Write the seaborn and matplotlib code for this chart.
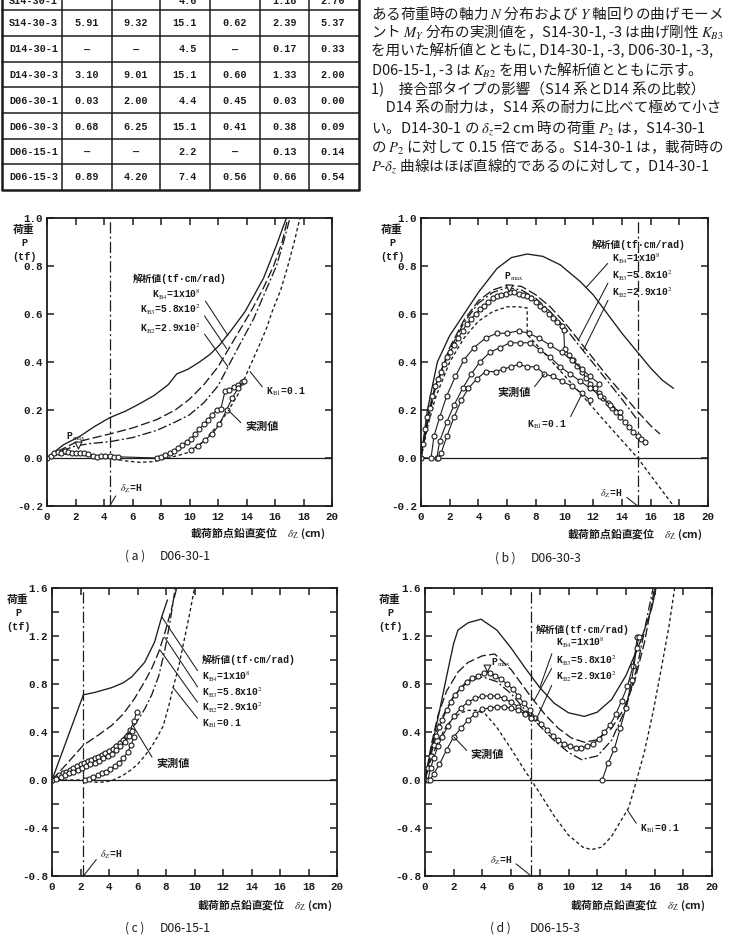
import matplotlib
matplotlib.use("Agg")
import matplotlib.pyplot as plt
import seaborn as sns

# ---------------- data ----------------
XTICKS = [0, 2, 4, 6, 8, 10, 12, 14, 16, 18, 20]
AB_YTICKS = [-0.2, 0.0, 0.2, 0.4, 0.6, 0.8, 1.0]
CD_YTICKS = [-0.8, -0.4, 0.0, 0.4, 0.8, 1.2, 1.6]
CD_YMINOR = [-0.6, -0.2, 0.2, 0.6, 1.0, 1.4]

# table
table_names = ["S14-30-3", "D14-30-1", "D14-30-3", "D06-30-1", "D06-30-3", "D06-15-1", "D06-15-3"]
table_c1 = ["5.91", "—", "3.10", "0.03", "0.68", "—", "0.89"]
table_c2 = ["9.32", "—", "9.01", "2.00", "6.25", "—", "4.20"]
table_H = ["15.1", "4.5", "15.1", "4.4", "15.1", "2.2", "7.4"]
table_c4 = ["0.62", "—", "0.60", "0.45", "0.41", "—", "0.56"]
table_c5 = ["2.39", "0.17", "1.33", "0.03", "0.38", "0.13", "0.66"]
table_c6 = ["5.37", "0.33", "2.00", "0.00", "0.09", "0.14", "0.54"]
table_partial = ["S14-30-1", "", "", "4.6", "", "1.18", "2.70"]

# paragraph
para_lines = [
    "ある荷重時の軸力 $N$ 分布および $Y$ 軸回りの曲げモーメ",
    "ント $M_Y$ 分布の実測値を，S14-30-1, -3 は曲げ剛性 $K_{B3}$",
    "を用いた解析値とともに, D14-30-1, -3, D06-30-1, -3,",
    "D06-15-1, -3 は $K_{B2}$ を用いた解析値とともに示す。",
    "1)　接合部タイプの影響（S14 系とD14 系の比較）",
    "　D14 系の耐力は，S14 系の耐力に比べて極めて小さ",
    "い。D14-30-1 の $\\delta_z$=2 cm 時の荷重 $P_2$ は，S14-30-1",
    "の $P_2$ に対して 0.15 倍である。S14-30-1 は，載荷時の",
    "$P$-$\\delta_z$ 曲線はほぼ直線的であるのに対して，D14-30-1",
]

# ---- panel (a) D06-30-1
a_H = 4.4
a_kb4_x = [0, 1.15, 2.3, 3.3, 4.4, 5.5, 6.5, 7.5, 8.5, 9.1, 9.9, 10.7, 11.4, 12.1, 12.9, 13.9, 15.2, 16.1, 16.8]
a_kb4_y = [0, 0.055, 0.09, 0.13, 0.168, 0.195, 0.226, 0.26, 0.305, 0.35, 0.37, 0.40, 0.43, 0.47, 0.53, 0.61, 0.75, 0.886, 1.0]
a_kb3_x = [0, 1.0, 2.0, 3.0, 4.4, 6.0, 7.7, 9.0, 10.0, 11.0, 12.0, 12.6, 13.4, 14.4, 15.2, 15.9, 16.5, 16.9]
a_kb3_y = [0, 0.035, 0.065, 0.08, 0.10, 0.125, 0.16, 0.20, 0.245, 0.305, 0.38, 0.44, 0.52, 0.62, 0.71, 0.80, 0.90, 1.0]
a_kb2_x = [0, 1.0, 2.0, 3.0, 4.4, 6.0, 7.7, 9.0, 10.0, 11.0, 12.0, 12.7, 13.5, 14.5, 15.3, 16.1, 16.6, 17.05]
a_kb2_y = [0, 0.03, 0.05, 0.06, 0.068, 0.085, 0.115, 0.15, 0.18, 0.23, 0.30, 0.38, 0.47, 0.58, 0.69, 0.80, 0.90, 1.0]
a_kb1_x = [0, 0.5, 1.0, 2.0, 3.0, 4.4, 5.5, 6.5, 7.5, 8.5, 9.3, 10.0, 11.0, 12.0, 12.7, 13.4, 14.0, 14.9, 15.4, 15.8, 16.4, 16.9, 17.35, 17.75]
a_kb1_y = [0, 0.01, 0.015, 0.015, 0.01, 0.0, -0.012, -0.018, -0.015, 0.0, 0.012, 0.025, 0.07, 0.137, 0.195, 0.265, 0.35, 0.47, 0.54, 0.61, 0.70, 0.80, 0.90, 1.0]
a_m1_x = [0, 0.25, 0.5, 0.75, 1.0, 1.25, 1.5, 1.75, 2.0, 2.3, 2.6, 2.9, 3.2, 3.5, 3.8, 4.1, 4.4, 4.7, 5.0,
          7.7, 8.0, 8.3, 8.6, 8.9, 9.2, 9.5, 9.8, 10.1, 10.4, 10.7, 11.0, 11.3, 11.6, 11.9, 12.2, 12.5, 12.8, 13.1, 13.4, 13.7]
a_m1_y = [0, 0.01, 0.02, 0.025, 0.02, 0.03, 0.025, 0.02, 0.02, 0.02, 0.02, 0.015, 0.01, 0.005, 0.01, 0.01, 0.008, 0.005, 0.005,
          0.0, 0.005, 0.012, 0.02, 0.03, 0.04, 0.055, 0.065, 0.08, 0.10, 0.12, 0.14, 0.16, 0.18, 0.20, 0.205, 0.28, 0.285, 0.295, 0.305, 0.315]
a_m2_x = [10.1, 10.6, 11.1, 11.6, 12.1, 12.6, 13.0, 13.4, 13.8]
a_m2_y = [0.035, 0.05, 0.075, 0.10, 0.14, 0.20, 0.25, 0.29, 0.32]
a_pmax = (2.2, 0.055)

# ---- panel (b) D06-30-3
b_H = 15.1
b_kb4_x = [0, 0.45, 1.14, 2.0, 3.0, 4.0, 5.3, 6.3, 7.4, 8.5, 9.7, 11.1, 12.0, 13.0, 14.0, 15.1, 16.0, 16.8, 17.6]
b_kb4_y = [0, 0.2, 0.4, 0.51, 0.6, 0.69, 0.79, 0.835, 0.85, 0.84, 0.805, 0.735, 0.68, 0.60, 0.52, 0.44, 0.375, 0.325, 0.29]
b_kb3_x = [0, 0.5, 1, 2, 3, 4, 5, 6, 7, 8, 9, 10, 11, 12, 13, 14, 15, 16, 16.65]
b_kb3_y = [0, 0.17, 0.30, 0.46, 0.575, 0.655, 0.70, 0.72, 0.715, 0.68, 0.63, 0.565, 0.49, 0.415, 0.34, 0.27, 0.20, 0.135, 0.10]
b_kb2_x = [0, 0.5, 1, 2, 3, 4, 5, 6, 7, 8, 9, 10, 11, 12, 13, 14, 15.0]
b_kb2_y = [0, 0.16, 0.29, 0.45, 0.565, 0.645, 0.69, 0.71, 0.70, 0.665, 0.61, 0.545, 0.47, 0.395, 0.32, 0.245, 0.165]
b_kb1_x = [0, 0.5, 1, 2, 3, 4, 5, 6, 6.8, 7.4, 7.4, 9.0, 11.1, 13.0, 15.1, 17.6]
b_kb1_y = [0, 0.14, 0.25, 0.40, 0.50, 0.57, 0.61, 0.63, 0.63, 0.625, 0.515, 0.41, 0.27, 0.14, 0.0, -0.2]
b_m1_x = [0, 0.15, 0.3, 0.45, 0.6, 0.8, 1.0, 1.2, 1.4, 1.6, 1.8, 2.0, 2.3, 2.6, 2.9, 3.2, 3.5, 3.8, 4.1, 4.4, 4.7,
          5.0, 5.3, 5.6, 5.9, 6.2, 6.5, 6.8, 7.1, 7.4, 7.7, 8.0, 8.3, 8.6, 8.9, 9.2, 9.5, 9.8, 9.95, 10.0, 10.3,
          10.6, 10.9, 11.2, 11.5, 11.8, 12.1, 12.4, 12.7, 13.0, 13.3, 13.6, 13.9, 14.2, 14.5, 14.8, 15.1, 15.35, 15.6]
b_m1_y = [0, 0.06, 0.12, 0.17, 0.21, 0.26, 0.30, 0.33, 0.36, 0.39, 0.42, 0.44, 0.47, 0.50, 0.53, 0.56, 0.58, 0.60, 0.62, 0.635, 0.65,
          0.665, 0.675, 0.68, 0.685, 0.69, 0.69, 0.685, 0.68, 0.675, 0.665, 0.65, 0.635, 0.62, 0.60, 0.585, 0.565, 0.55, 0.535, 0.455, 0.43,
          0.41, 0.385, 0.36, 0.335, 0.31, 0.29, 0.27, 0.25, 0.23, 0.21, 0.19, 0.17, 0.15, 0.13, 0.11, 0.09, 0.08, 0.068]
b_m2_x = [0.7, 0.9, 1.3, 1.8, 2.4, 3.0, 3.7, 4.5, 5.3, 6.0, 6.8, 7.5, 8.2, 9.0, 9.8, 10.5, 11.2, 11.8, 12.4]
b_m2_y = [0, 0.09, 0.17, 0.26, 0.34, 0.41, 0.46, 0.50, 0.52, 0.52, 0.53, 0.52, 0.50, 0.47, 0.44, 0.41, 0.37, 0.34, 0.31]
b_m3_x = [1.1, 1.3, 1.8, 2.3, 2.9, 3.5, 4.1, 4.8, 5.5, 6.2, 6.9, 7.6, 8.3, 9.0, 9.7, 10.4, 11.1, 11.8, 12.5, 13.2, 13.9]
b_m3_y = [0, 0.07, 0.15, 0.22, 0.29, 0.35, 0.40, 0.44, 0.46, 0.48, 0.48, 0.48, 0.45, 0.42, 0.38, 0.35, 0.32, 0.29, 0.26, 0.22, 0.19]
b_m4_x = [1.2, 1.4, 1.8, 2.3, 2.8, 3.3, 3.9, 4.5, 5.2, 5.7, 6.3, 6.8, 7.4, 8.0, 8.6, 9.2, 9.8, 10.5, 11.2, 11.8]
b_m4_y = [0, 0.02, 0.09, 0.17, 0.24, 0.29, 0.33, 0.36, 0.36, 0.37, 0.38, 0.39, 0.38, 0.38, 0.35, 0.34, 0.32, 0.30, 0.27, 0.24]
b_pmax = (6.13, 0.71)

# ---- panel (c) D06-15-1
c_H = 2.2
c_kb4_x = [0, 2.2, 3.0, 4.2, 5.0, 5.6, 6.5, 7.2, 7.7, 8.1]
c_kb4_y = [0, 0.71, 0.73, 0.77, 0.81, 0.86, 0.98, 1.15, 1.36, 1.5]
c_kb3_x = [0, 1.0, 2.2, 3.2, 4.2, 5.0, 5.8, 6.5, 7.0, 7.5, 7.93, 8.35, 8.75]
c_kb3_y = [0, 0.13, 0.29, 0.37, 0.456, 0.55, 0.68, 0.82, 0.93, 1.07, 1.23, 1.41, 1.6]
c_kb2_x = [0, 1.0, 2.2, 3.2, 4.2, 5.0, 5.8, 6.5, 7.0, 7.5, 7.93, 8.3, 8.65]
c_kb2_y = [0, 0.07, 0.15, 0.20, 0.26, 0.35, 0.46, 0.59, 0.71, 0.87, 1.09, 1.33, 1.6]
c_kb1_x = [0, 1.0, 2.2, 2.8, 3.3, 3.8, 4.3, 5.0, 5.5, 6.0, 6.5, 7.0, 7.4, 7.8, 8.2, 8.5, 8.9, 9.3, 9.65, 10.0]
c_kb1_y = [0, 0.0, 0.0, -0.015, -0.02, -0.015, 0.0, 0.04, 0.08, 0.13, 0.20, 0.28, 0.36, 0.45, 0.62, 0.77, 0.95, 1.18, 1.38, 1.6]
c_m1_x = [0, 0.25, 0.5, 0.75, 1.0, 1.25, 1.5, 1.75, 2.0, 2.25, 2.5, 2.75, 3.0, 3.25, 3.5, 3.75, 4.0, 4.25, 4.5, 4.75, 5.0, 5.25, 5.5, 5.75, 5.95]
c_m1_y = [0, 0.02, 0.04, 0.055, 0.07, 0.085, 0.10, 0.115, 0.13, 0.14, 0.155, 0.165, 0.18, 0.195, 0.21, 0.225, 0.24, 0.26, 0.28, 0.305, 0.33, 0.37, 0.42, 0.49, 0.57]
c_m2_x = [0, 0.3, 0.6, 0.9, 1.2, 1.5, 1.8, 2.1, 2.4, 2.7, 3.0, 3.3, 3.6, 3.9, 4.2, 4.5, 4.8, 5.1, 5.4, 5.6]
c_m2_y = [0, 0.01, 0.025, 0.04, 0.055, 0.07, 0.085, 0.10, 0.115, 0.13, 0.145, 0.16, 0.18, 0.20, 0.22, 0.25, 0.28, 0.32, 0.37, 0.41]
c_m3_x = [2.3, 2.6, 2.9, 3.2, 3.5, 3.8, 4.1, 4.4, 4.7, 5.0, 5.3, 5.55, 5.75]
c_m3_y = [0, 0.012, 0.025, 0.04, 0.055, 0.07, 0.09, 0.115, 0.145, 0.18, 0.23, 0.29, 0.36]

# ---- panel (d) D06-15-3
d_H = 7.4
d_kb4_x = [0, 0.5, 1.0, 1.5, 2.0, 2.3, 3.0, 3.9, 5.0, 6.0, 7.0, 8.0, 9.0, 10.0, 11.1, 12.0, 13.0, 14.0, 15.0, 15.8, 16.1]
d_kb4_y = [0, 0.29, 0.57, 0.86, 1.14, 1.25, 1.31, 1.34, 1.25, 1.10, 0.93, 0.77, 0.64, 0.56, 0.53, 0.565, 0.67, 0.87, 1.15, 1.43, 1.6]
d_kb3_x = [0, 0.45, 0.91, 1.5, 2.3, 3.0, 4.0, 4.86, 6.0, 7.4, 8.4, 9.3, 10.2, 11.1, 12.0, 13.0, 13.8, 14.6, 15.3, 16.0]
d_kb3_y = [0, 0.30, 0.54, 0.74, 0.90, 0.98, 1.035, 1.05, 0.92, 0.69, 0.54, 0.43, 0.35, 0.315, 0.335, 0.43, 0.58, 0.82, 1.15, 1.6]
d_kb2_x = [0, 0.5, 1.0, 2.0, 3.0, 4.0, 5.0, 6.0, 7.0, 8.0, 9.0, 10.0, 10.9, 12.0, 13.0, 14.0, 14.8, 15.5, 15.9]
d_kb2_y = [0, 0.28, 0.48, 0.70, 0.82, 0.86, 0.82, 0.72, 0.58, 0.45, 0.33, 0.23, 0.17, 0.20, 0.33, 0.60, 0.95, 1.37, 1.6]
d_kb1_x = [0, 0.5, 1.0, 1.5, 2.0, 2.5, 3.0, 3.6, 4.2, 5.0, 6.0, 7.0, 7.4, 8.0, 9.0, 10.0, 11.0, 11.6, 12.3, 13.0, 13.6,
           14.2, 14.75, 15.3, 15.9, 16.5, 17.0, 17.4]
d_kb1_y = [0, 0.20, 0.34, 0.45, 0.52, 0.56, 0.58, 0.58, 0.55, 0.44, 0.26, 0.07, 0.0, -0.11, -0.30, -0.46, -0.56, -0.58, -0.56, -0.47, -0.35,
           -0.23, 0.0, 0.24, 0.57, 0.95, 1.28, 1.6]
d_m1_x = [0, 0.2, 0.4, 0.6, 0.8, 1.0, 1.2, 1.5, 1.8, 2.1, 2.5, 2.9, 3.3, 3.7, 4.1, 4.5, 4.9, 5.3, 5.7, 6.1, 6.5, 6.9, 7.3,
          7.7, 8.1, 8.5, 8.9, 9.3, 9.7, 10.1, 10.5, 10.9, 11.3, 11.7, 12.1, 12.5, 12.9, 13.3, 13.7, 14.1, 14.5, 14.8]
d_m1_y = [0, 0.10, 0.20, 0.29, 0.37, 0.44, 0.50, 0.58, 0.65, 0.71, 0.77, 0.82, 0.85, 0.87, 0.89, 0.89, 0.87, 0.84, 0.80, 0.76, 0.70, 0.64, 0.58,
          0.52, 0.47, 0.42, 0.37, 0.33, 0.30, 0.28, 0.27, 0.27, 0.28, 0.30, 0.34, 0.40, 0.46, 0.55, 0.66, 0.78, 0.95, 1.19]
d_m2_x = [0.2, 0.4, 0.6, 0.9, 1.2, 1.6, 2.0, 2.5, 3.0, 3.5, 4.0, 4.5, 5.0, 5.5, 6.0, 6.5, 7.0, 7.4]
d_m2_y = [0, 0.10, 0.18, 0.28, 0.36, 0.45, 0.53, 0.60, 0.65, 0.68, 0.70, 0.70, 0.70, 0.68, 0.65, 0.61, 0.56, 0.52]
d_m3_x = [0.35, 0.6, 1.0, 1.5, 2.0, 2.5, 3.0, 3.5, 4.0, 4.5, 5.0, 5.5, 6.0, 6.5, 7.0, 7.4]
d_m3_y = [0, 0.05, 0.13, 0.25, 0.36, 0.43, 0.50, 0.55, 0.59, 0.60, 0.61, 0.61, 0.60, 0.58, 0.55, 0.52]
d_m4_x = [12.35, 12.75, 13.2, 13.6, 14.0, 14.4, 14.75, 14.9]
d_m4_y = [0, 0.14, 0.26, 0.43, 0.60, 0.83, 1.10, 1.19]
d_pmax = (4.3, 0.93)

KB4_TXT = "K$_{\\rm B4}$=1x10$^{\\rm 8}$"
KB3_TXT = "K$_{\\rm B3}$=5.8x10$^{\\rm 2}$"
KB2_TXT = "K$_{\\rm B2}$=2.9x10$^{\\rm 2}$"
KB1_TXT = "K$_{\\rm B1}$=0.1"
ANA_TXT = "解析値(tf·cm/rad)"
MEAS_TXT = "実測値"
PMAX_TXT = "P$_{\\rm max}$"
DH_TXT = "$\\delta_{\\rm Z}$=H"

# ---------------- style ----------------
sns.set_theme(style="ticks")
MONO = ["Liberation Mono", "Noto Sans CJK JP", "DejaVu Sans"]
CJK = ["Noto Sans CJK JP", "DejaVu Sans"]
plt.rcParams["font.family"] = MONO
plt.rcParams["mathtext.fontset"] = "stix"
plt.rcParams["axes.unicode_minus"] = False
INK = "#1c1c1c"

LS_KB4 = "-"
LS_KB3 = (0, (7, 2.5))
LS_KB2 = (0, (7, 2, 1.5, 2))
LS_KB1 = (0, (2.6, 2))
LS_H = (0, (9, 2.5, 1.6, 2.5))

fig = plt.figure(figsize=(7.31, 9.40), dpi=100)
fig.patch.set_facecolor("white")

ov = fig.add_axes([0, 0, 1, 1])
ov.set_xlim(0, 731)
ov.set_ylim(940, 0)
ov.axis("off")
ov.set_zorder(-5)

# ---- table
T_X = [2, 62, 112, 160, 210, 260, 309, 359]
T_Y = [10, 36, 62, 87, 113, 139, 164, 190]
for xv in T_X:
    lw = 1.8 if xv in (2, 359) else 1.1
    ov.plot([xv, xv], [-2, 190], color=INK, lw=lw, solid_capstyle="butt")
for yv in T_Y:
    lw = 1.8 if yv == 190 else 1.1
    ov.plot([2, 359], [yv, yv], color=INK, lw=lw)
col_pos = [(9, "left"), (87, "center"), (136, "center"), (197, "right"), (235, "center"), (284.5, "center"), (333, "center")]
rows = list(zip(table_names, table_c1, table_c2, table_H, table_c4, table_c5, table_c6))
for i, row in enumerate(rows):
    yc = (T_Y[i] + T_Y[i + 1]) / 2 + 0.5
    for (xp, ha), val in zip(col_pos, row):
        ov.text(xp, yc, val, ha=ha, va="center", fontsize=7.3, fontweight="bold", color=INK, family=MONO)
# top row of the table is cut by the page edge in the reference
for (xp, ha), val in zip(col_pos, table_partial):
    if val:
        ov.text(xp, 1.5, val, ha=ha, va="center", fontsize=7.3, fontweight="bold", color=INK, family=MONO)

# ---- paragraph
para_y = [13, 32, 51, 70, 89, 108, 128, 147, 166]
for yv, line in zip(para_y, para_lines):
    ov.text(371, yv, line, ha="left", va="center", fontsize=10.5, color=INK, family=CJK)


def style_axes(ax, ylim, ymajor, yminor):
    ax.set_xlim(0, 20)
    ax.set_ylim(*ylim)
    ax.set_xticks(XTICKS)
    ax.set_yticks(ymajor)
    if yminor:
        ax.set_yticks(yminor, minor=True)
    ax.set_xticklabels([str(v) for v in XTICKS])
    ax.set_yticklabels([f"{v:.1f}" for v in ymajor])
    ax.tick_params(which="both", direction="in", top=True, right=True, length=5, width=1.1,
                   color=INK, labelcolor=INK)
    ax.tick_params(axis="y", pad=3)
    ax.tick_params(axis="x", pad=4)
    for t in ax.get_xticklabels() + ax.get_yticklabels():
        t.set_fontfamily(MONO)
        t.set_fontweight("bold")
        t.set_fontsize(7.8)
    for s in ax.spines.values():
        s.set_linewidth(1.3)
        s.set_color(INK)
    ax.set_xlabel("")
    ax.set_ylabel("")


def draw_panel(rect, ylim, ymajor, yminor, H, curves, measured, pmax):
    ax = fig.add_axes(rect)
    ax.set_facecolor("white")
    ax.axhline(0, color=INK, lw=0.9, zorder=1)
    ax.axvline(H, color=INK, lw=0.9, linestyle=LS_H, zorder=1)
    for (xs, ys), ls in zip(curves, [LS_KB4, LS_KB3, LS_KB2, LS_KB1]):
        sns.lineplot(x=xs, y=ys, ax=ax, sort=False, estimator=None, color=INK, lw=0.95, legend=False)
        ax.lines[-1].set_linestyle(ls)
    for xs, ys in measured:
        sns.lineplot(x=xs, y=ys, ax=ax, sort=False, estimator=None, color=INK, lw=0.8, legend=False,
                     marker="o", markersize=3.6, markerfacecolor="white", markeredgecolor=INK,
                     markeredgewidth=0.8)
    if pmax is not None:
        sns.scatterplot(x=[pmax[0]], y=[pmax[1]], ax=ax, marker="v", s=24, color="white",
                        edgecolor=INK, linewidth=0.8, zorder=6, legend=False)
    style_axes(ax, ylim, ymajor, yminor)
    return ax


def note(ax, text, xytext, xy=None, side="r", fs=7.0, family=MONO, weight="bold"):
    if xy is None:
        ax.text(xytext[0], xytext[1], text, ha="left", va="center", fontsize=fs, family=family,
                fontweight=weight, color=INK, zorder=7)
        return
    relpos = (1, 0.5) if side == "r" else (0, 0.5)
    ax.annotate(text, xy=xy, xytext=xytext, textcoords="data", ha="left", va="center", fontsize=fs,
                family=family, fontweight=weight, color=INK, annotation_clip=False, zorder=7,
                arrowprops=dict(arrowstyle="-", color=INK, lw=0.75, shrinkA=1, shrinkB=0, relpos=relpos))


RECT_A = [47 / 731, 1 - 506 / 940, 285 / 731, 288 / 940]
RECT_B = [421 / 731, 1 - 506 / 940, 287 / 731, 288 / 940]
RECT_C = [52 / 731, 1 - 876 / 940, 285 / 731, 288 / 940]
RECT_D = [425 / 731, 1 - 876 / 940, 287 / 731, 288 / 940]

# (a)
axa = draw_panel(RECT_A, (-0.2, 1.0), AB_YTICKS, None, a_H,
                 [(a_kb4_x, a_kb4_y), (a_kb3_x, a_kb3_y), (a_kb2_x, a_kb2_y), (a_kb1_x, a_kb1_y)],
                 [(a_m1_x, a_m1_y), (a_m2_x, a_m2_y)], a_pmax)
note(axa, ANA_TXT, (6.0, 0.745))
note(axa, KB4_TXT, (7.4, 0.68), (12.7, 0.51), "r")
note(axa, KB3_TXT, (6.5, 0.617), (12.6, 0.456), "r")
note(axa, KB2_TXT, (6.5, 0.54), (12.7, 0.38), "r")
note(axa, KB1_TXT, (15.4, 0.275), (14.25, 0.36), "l")
note(axa, MEAS_TXT, (13.9, 0.13), (12.7, 0.2), "l", fs=8, family=CJK)
note(axa, PMAX_TXT, (1.3, 0.09))
note(axa, DH_TXT, (5.1, -0.13), (4.4, -0.2), "l")

# (b)
axb = draw_panel(RECT_B, (-0.2, 1.0), AB_YTICKS, None, b_H,
                 [(b_kb4_x, b_kb4_y), (b_kb3_x, b_kb3_y), (b_kb2_x, b_kb2_y), (b_kb1_x, b_kb1_y)],
                 [(b_m1_x, b_m1_y), (b_m2_x, b_m2_y), (b_m3_x, b_m3_y), (b_m4_x, b_m4_y)], b_pmax)
note(axb, ANA_TXT, (11.9, 0.89))
note(axb, KB4_TXT, (13.3, 0.83), (11.5, 0.71), "l")
note(axb, KB3_TXT, (13.3, 0.76), (10.95, 0.49), "l")
note(axb, KB2_TXT, (13.3, 0.69), (11.3, 0.447), "l")
note(axb, KB1_TXT, (7.4, 0.14), (11.2, 0.265), "r")
note(axb, MEAS_TXT, (5.3, 0.275), (8.6, 0.35), "r", fs=8, family=CJK)
note(axb, PMAX_TXT, (5.8, 0.755))
note(axb, DH_TXT, (12.5, -0.15), (15.1, -0.2), "r")

# (c)
axc = draw_panel(RECT_C, (-0.8, 1.6), CD_YTICKS, CD_YMINOR, c_H,
                 [(c_kb4_x, c_kb4_y), (c_kb3_x, c_kb3_y), (c_kb2_x, c_kb2_y), (c_kb1_x, c_kb1_y)],
                 [(c_m1_x, c_m1_y), (c_m2_x, c_m2_y), (c_m3_x, c_m3_y)], None)
note(axc, ANA_TXT, (10.5, 1.0))
note(axc, KB4_TXT, (10.5, 0.86), (7.7, 1.36), "l")
note(axc, KB3_TXT, (10.5, 0.725), (7.9, 1.19), "l")
note(axc, KB2_TXT, (10.5, 0.60), (7.6, 1.08), "l")
note(axc, KB1_TXT, (10.5, 0.47), (8.5, 0.77), "l")
note(axc, MEAS_TXT, (7.3, 0.135), (5.7, 0.45), "l", fs=8, family=CJK)
note(axc, DH_TXT, (3.4, -0.62), (2.2, -0.8), "l")

# (d)
axd = draw_panel(RECT_D, (-0.8, 1.6), CD_YTICKS, CD_YMINOR, d_H,
                 [(d_kb4_x, d_kb4_y), (d_kb3_x, d_kb3_y), (d_kb2_x, d_kb2_y), (d_kb1_x, d_kb1_y)],
                 [(d_m1_x, d_m1_y), (d_m2_x, d_m2_y), (d_m3_x, d_m3_y), (d_m4_x, d_m4_y)], d_pmax)
note(axd, ANA_TXT, (7.7, 1.25))
note(axd, KB4_TXT, (9.1, 1.14), (8.0, 0.77), "l")
note(axd, KB3_TXT, (9.1, 0.99), (7.6, 0.66), "l")
note(axd, KB2_TXT, (9.1, 0.86), (7.7, 0.49), "l")
note(axd, KB1_TXT, (15.0, -0.41), (14.1, -0.25), "l")
note(axd, MEAS_TXT, (3.2, 0.21), (2.0, 0.36), "l", fs=8, family=CJK)
note(axd, PMAX_TXT, (4.6, 0.98))
note(axd, DH_TXT, (4.5, -0.67), (7.4, -0.8), "r")

# ---- outer labels (pixel coords on overlay)
XL_TXT = "載荷節点鉛直変位　$\\delta_{\\rm Z}$ (cm)"
for (xr, yv) in [(325, 533), (702, 534), (332, 905), (705, 905)]:
    ov.text(xr, yv, XL_TXT, ha="right", va="center", fontsize=7.8, fontweight="bold", color=INK, family=CJK)

for (xc, y0) in [(24, 230), (392, 230), (18, 600), (390, 600)]:
    ov.text(xc, y0, "荷重", ha="center", va="center", fontsize=7.8, fontweight="bold", color=INK, family=CJK)
    ov.text(xc, y0 + 13.5, "P", ha="center", va="center", fontsize=7.4, fontweight="bold", color=INK, family=MONO)
    ov.text(xc, y0 + 27, "(tf)", ha="center", va="center", fontsize=7.4, fontweight="bold", color=INK, family=MONO)

captions = [("( a )", "D06-30-1", 125, 160, 556), ("( b )", "D06-30-3", 495, 531, 558),
            ("( c )", "D06-15-1", 125, 160, 928), ("( d )", "D06-15-3", 490, 530, 928)]
for lab, name, x1, x2, yv in captions:
    ov.text(x1, yv, lab, ha="left", va="center", fontsize=8.6, color=INK, family=CJK)
    ov.text(x2, yv, name, ha="left", va="center", fontsize=8.8, color=INK, family=CJK)

fig.savefig("out.png", dpi=100, facecolor="white")
